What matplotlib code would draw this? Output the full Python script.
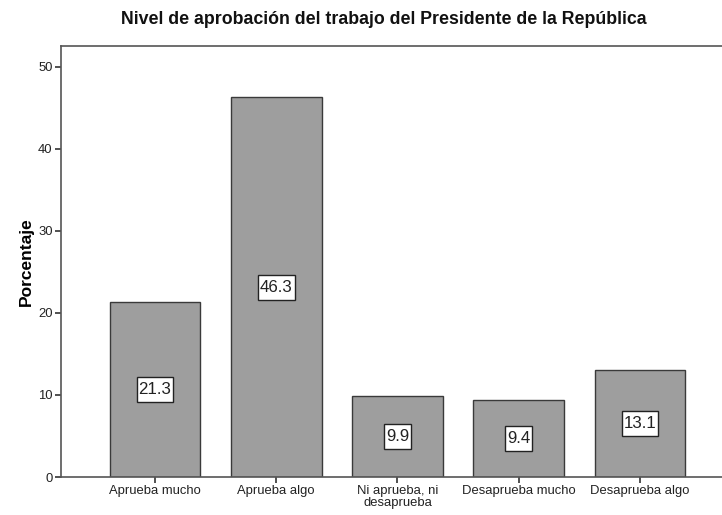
import matplotlib
matplotlib.use("Agg")
import matplotlib.pyplot as plt
from matplotlib.path import Path

categories = ["Aprueba mucho", "Aprueba algo", "Ni aprueba, ni\ndesaprueba",
              "Desaprueba mucho", "Desaprueba algo"]
values = [21.3, 46.3, 9.9, 9.4, 13.1]
yticks = [0, 10, 20, 30, 40, 50]

plt.rcParams['font.family'] = ['Liberation Sans', 'DejaVu Sans']


def label_box(x0, y0, width, height, mutation_size):
    padx = 0.12 * mutation_size
    pady = 0.30 * mutation_size
    x0, y0 = x0 - padx, y0 - pady
    x1, y1 = x0 + width + 2 * padx, y0 + height + 2 * pady
    return Path([(x0, y0), (x1, y0), (x1, y1), (x0, y1), (x0, y0)], closed=True)


fig = plt.figure(figsize=(7.22, 5.15), dpi=100)
ax = fig.add_axes([61/722, 1-477/515, 673/722, (477-46)/515])

x = list(range(len(categories)))
ax.bar(x, values, width=0.75, color='#9e9e9e', edgecolor='#3a3a3a', linewidth=1.0, zorder=2)
for xi, v in zip(x, values):
    ax.text(xi, v/2, f"{v:.1f}", ha='center', va='center', fontsize=12.2, color='#222222',
            bbox=dict(boxstyle=label_box, facecolor='white', edgecolor='#222222', linewidth=1.0),
            zorder=3)

ax.set_xlim(-0.775, 4.775)
ax.set_ylim(0, 52.56)
ax.set_xticks(x)
ax.set_xticklabels(categories, fontsize=9.4, linespacing=0.95)
ax.set_yticks(yticks)
ax.set_yticklabels([str(t) for t in yticks], fontsize=9.4)
for s in ax.spines.values():
    s.set_color('#555555')
    s.set_linewidth(1.2)
ax.tick_params(direction='out', length=4, width=1.2, color='#333333', pad=2, labelcolor='#222222')
ax.set_ylabel("Porcentaje", fontsize=12.5, fontweight='bold', labelpad=3)

fig.text(384/722, 1-19/515, "Nivel de aprobación del trabajo del Presidente de la República",
         ha='center', va='center', fontsize=12.8, fontweight='bold', color='#111111')

fig.savefig("out.png", dpi=100)
